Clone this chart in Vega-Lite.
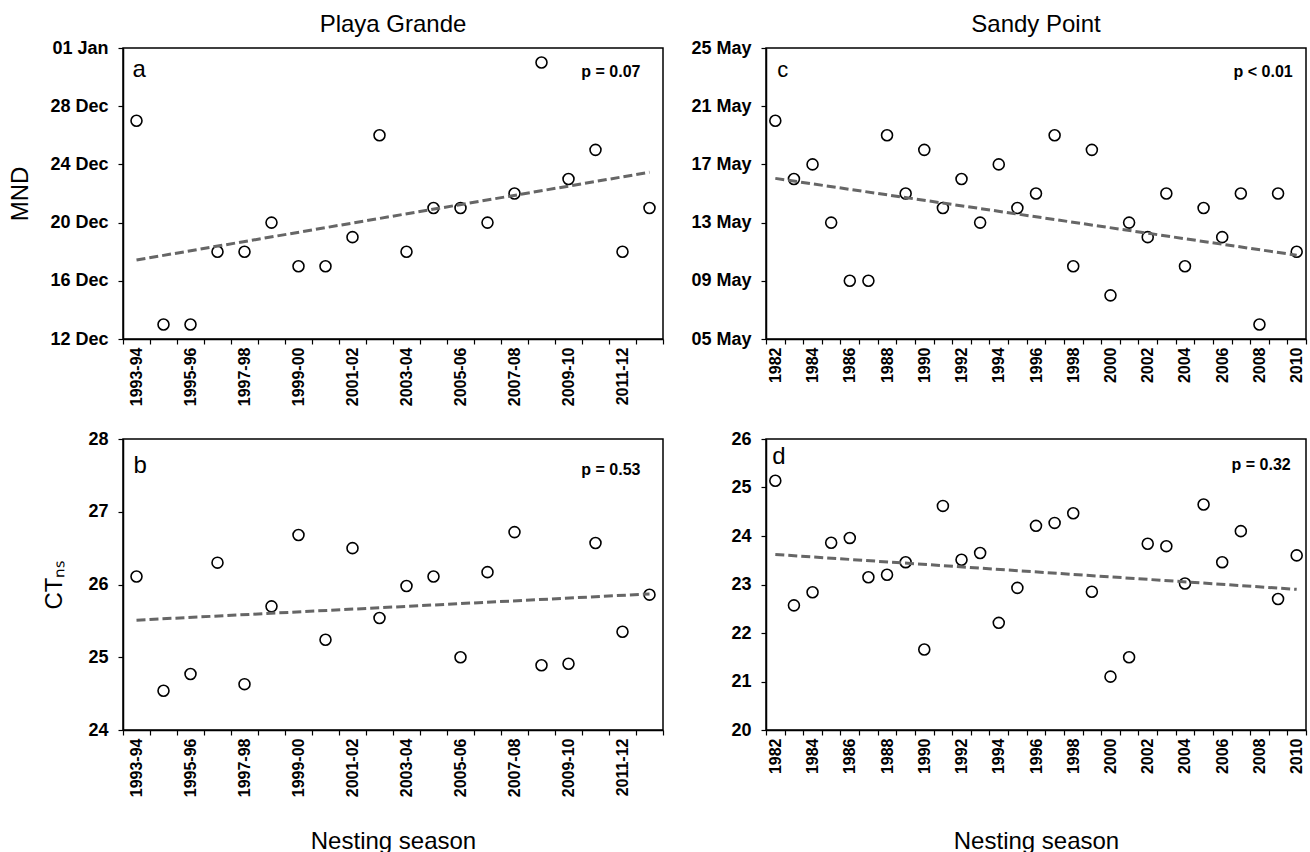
{
  "$schema": "https://vega.github.io/schema/vega-lite/v6.json",
  "background": "white",
  "padding": {"left": 8, "top": 12, "right": 5, "bottom": 0},
  "config": {
    "font": "Liberation Sans",
    "view": {"stroke": "black", "strokeWidth": 1.5},
    "axis": {"domainColor": "black", "domainWidth": 1.5, "tickColor": "black", "tickWidth": 1.2, "tickSize": 5, "labelColor": "black", "labelFont": "Liberation Sans", "labelFontWeight": "bold", "titleFont": "Liberation Sans", "titleFontWeight": "normal", "titleFontSize": 24, "titleColor": "black", "grid": false, "labelOverlap": false, "labelFlush": false},
    "axisY": {"titleAngle": -90, "titleAlign": "center", "titleBaseline": "bottom"},
    "title": {"font": "Liberation Sans", "fontSize": 24, "fontWeight": "normal", "color": "black"}
  },
  "datasets": {
    "playa": [
      {"season": "1993-94", "mnd_doy": 361, "ct": 26.11},
      {"season": "1994-95", "mnd_doy": 347, "ct": 24.54},
      {"season": "1995-96", "mnd_doy": 347, "ct": 24.77},
      {"season": "1996-97", "mnd_doy": 352, "ct": 26.30},
      {"season": "1997-98", "mnd_doy": 352, "ct": 24.63},
      {"season": "1998-99", "mnd_doy": 354, "ct": 25.70},
      {"season": "1999-00", "mnd_doy": 351, "ct": 26.68},
      {"season": "2000-01", "mnd_doy": 351, "ct": 25.24},
      {"season": "2001-02", "mnd_doy": 353, "ct": 26.50},
      {"season": "2002-03", "mnd_doy": 360, "ct": 25.54},
      {"season": "2003-04", "mnd_doy": 352, "ct": 25.98},
      {"season": "2004-05", "mnd_doy": 355, "ct": 26.11},
      {"season": "2005-06", "mnd_doy": 355, "ct": 25.00},
      {"season": "2006-07", "mnd_doy": 354, "ct": 26.17},
      {"season": "2007-08", "mnd_doy": 356, "ct": 26.72},
      {"season": "2008-09", "mnd_doy": 365, "ct": 24.89},
      {"season": "2009-10", "mnd_doy": 357, "ct": 24.91},
      {"season": "2010-11", "mnd_doy": 359, "ct": 26.57},
      {"season": "2011-12", "mnd_doy": 352, "ct": 25.35},
      {"season": "2012-13", "mnd_doy": 355, "ct": 25.86}
    ],
    "sandy": [
      {"year": 1982, "mnd_doy": 140, "ct": 25.14},
      {"year": 1983, "mnd_doy": 136, "ct": 22.57},
      {"year": 1984, "mnd_doy": 137, "ct": 22.84},
      {"year": 1985, "mnd_doy": 133, "ct": 23.86},
      {"year": 1986, "mnd_doy": 129, "ct": 23.96},
      {"year": 1987, "mnd_doy": 129, "ct": 23.15},
      {"year": 1988, "mnd_doy": 139, "ct": 23.20},
      {"year": 1989, "mnd_doy": 135, "ct": 23.46},
      {"year": 1990, "mnd_doy": 138, "ct": 21.66},
      {"year": 1991, "mnd_doy": 134, "ct": 24.62},
      {"year": 1992, "mnd_doy": 136, "ct": 23.51},
      {"year": 1993, "mnd_doy": 133, "ct": 23.65},
      {"year": 1994, "mnd_doy": 137, "ct": 22.21},
      {"year": 1995, "mnd_doy": 134, "ct": 22.93},
      {"year": 1996, "mnd_doy": 135, "ct": 24.21},
      {"year": 1997, "mnd_doy": 139, "ct": 24.27},
      {"year": 1998, "mnd_doy": 130, "ct": 24.47},
      {"year": 1999, "mnd_doy": 138, "ct": 22.85},
      {"year": 2000, "mnd_doy": 128, "ct": 21.10},
      {"year": 2001, "mnd_doy": 133, "ct": 21.50},
      {"year": 2002, "mnd_doy": 132, "ct": 23.84},
      {"year": 2003, "mnd_doy": 135, "ct": 23.79},
      {"year": 2004, "mnd_doy": 130, "ct": 23.02},
      {"year": 2005, "mnd_doy": 134, "ct": 24.65},
      {"year": 2006, "mnd_doy": 132, "ct": 23.46},
      {"year": 2007, "mnd_doy": 135, "ct": 24.10},
      {"year": 2008, "mnd_doy": 126, "ct": null},
      {"year": 2009, "mnd_doy": 135, "ct": 22.70},
      {"year": 2010, "mnd_doy": 131, "ct": 23.60}
    ]
  },
  "columns": 2,
  "bounds": "flush",
  "spacing": {"row": 100, "column": 103},
  "concat": [
    {
      "width": 540, "height": 291,
      "title": {"text": "Playa Grande", "offset": -17, "baseline": "alphabetic"},
      "data": {"name": "playa"},
      "layer": [
        {
          "mark": {"type": "point", "shape": "circle", "filled": false, "stroke": "black", "strokeWidth": 1.6, "size": 120, "opacity": 1},
          "encoding": {
            "x": {"field": "season", "type": "ordinal",
              "scale": {"type": "band", "paddingInner": 0, "paddingOuter": 0, "domain": ["1993-94","1994-95","1995-96","1996-97","1997-98","1998-99","1999-00","2000-01","2001-02","2002-03","2003-04","2004-05","2005-06","2006-07","2007-08","2008-09","2009-10","2010-11","2011-12","2012-13"]},
              "axis": {"title": null, "tickBand": "extent", "labelAngle": -90, "labelFontSize": 16, "labelPadding": 3, "labelExpr": "indexof(['1993-94','1995-96','1997-98','1999-00','2001-02','2003-04','2005-06','2007-08','2009-10','2011-12'], datum.value) >= 0 ? datum.value : ''"}},
            "y": {"field": "mnd_doy", "type": "quantitative",
              "scale": {"domain": [346, 366], "nice": false, "zero": false},
              "axis": {"title": "MND", "titlePadding": 17, "labelFontSize": 18, "labelPadding": 10,
                "values": [346,347,348,349,350,351,352,353,354,355,356,357,358,359,360,361,362,363,364,365,366],
                "labelExpr": "['12 Dec','','','','16 Dec','','','','20 Dec','','','','24 Dec','','','','28 Dec','','','','01 Jan'][datum.value - 346]"}}
          }
        },
        {
          "data": {"values": [{"season": "1993-94", "mnd_doy": 351.43}, {"season": "2012-13", "mnd_doy": 357.46}]},
          "mark": {"type": "line", "strokeDash": [9, 4], "strokeWidth": 3, "color": "#666666"},
          "encoding": {"x": {"field": "season", "type": "ordinal"}, "y": {"field": "mnd_doy", "type": "quantitative"}}
        },
        {
          "data": {"values": [{"season": "1993-94", "mnd_doy": 364, "label": "a"}]},
          "mark": {"type": "text", "align": "left", "baseline": "alphabetic", "dx": -4, "fontSize": 24, "color": "black"},
          "encoding": {"x": {"field": "season", "type": "ordinal"}, "y": {"field": "mnd_doy", "type": "quantitative"}, "text": {"field": "label"}}
        },
        {
          "data": {"values": [{"season": "2012-13", "mnd_doy": 364, "label": "p = 0.07"}]},
          "mark": {"type": "text", "align": "right", "baseline": "alphabetic", "dx": -9, "fontSize": 16, "fontWeight": "bold", "color": "black"},
          "encoding": {"x": {"field": "season", "type": "ordinal"}, "y": {"field": "mnd_doy", "type": "quantitative"}, "text": {"field": "label"}}
        }
      ]
    },
    {
      "width": 540, "height": 291,
      "title": {"text": "Sandy Point", "offset": -17, "baseline": "alphabetic"},
      "data": {"name": "sandy"},
      "layer": [
        {
          "mark": {"type": "point", "shape": "circle", "filled": false, "stroke": "black", "strokeWidth": 1.6, "size": 120, "opacity": 1},
          "encoding": {
            "x": {"field": "year", "type": "ordinal",
              "scale": {"type": "band", "paddingInner": 0, "paddingOuter": 0, "domain": [1982,1983,1984,1985,1986,1987,1988,1989,1990,1991,1992,1993,1994,1995,1996,1997,1998,1999,2000,2001,2002,2003,2004,2005,2006,2007,2008,2009,2010]},
              "axis": {"title": null, "tickBand": "extent", "labelAngle": -90, "labelFontSize": 16, "labelPadding": 3, "labelExpr": "datum.value % 2 == 0 ? datum.label : ''"}},
            "y": {"field": "mnd_doy", "type": "quantitative",
              "scale": {"domain": [125, 145], "nice": false, "zero": false},
              "axis": {"title": null, "labelFontSize": 18, "labelPadding": 10,
                "values": [125,126,127,128,129,130,131,132,133,134,135,136,137,138,139,140,141,142,143,144,145],
                "labelExpr": "['05 May','','','','09 May','','','','13 May','','','','17 May','','','','21 May','','','','25 May'][datum.value - 125]"}}
          }
        },
        {
          "data": {"values": [{"year": 1982, "mnd_doy": 136.04}, {"year": 2010, "mnd_doy": 130.76}]},
          "mark": {"type": "line", "strokeDash": [9, 4], "strokeWidth": 3, "color": "#666666"},
          "encoding": {"x": {"field": "year", "type": "ordinal"}, "y": {"field": "mnd_doy", "type": "quantitative"}}
        },
        {
          "data": {"values": [{"year": 1982, "mnd_doy": 143, "label": "c"}]},
          "mark": {"type": "text", "align": "left", "baseline": "alphabetic", "dx": 2, "fontSize": 22, "color": "black"},
          "encoding": {"x": {"field": "year", "type": "ordinal"}, "y": {"field": "mnd_doy", "type": "quantitative"}, "text": {"field": "label"}}
        },
        {
          "data": {"values": [{"year": 2010, "mnd_doy": 143, "label": "p < 0.01"}]},
          "mark": {"type": "text", "align": "right", "baseline": "alphabetic", "dx": -4, "fontSize": 16, "fontWeight": "bold", "color": "black"},
          "encoding": {"x": {"field": "year", "type": "ordinal"}, "y": {"field": "mnd_doy", "type": "quantitative"}, "text": {"field": "label"}}
        }
      ]
    },
    {
      "width": 540, "height": 291,
      "data": {"name": "playa"},
      "layer": [
        {
          "mark": {"type": "point", "shape": "circle", "filled": false, "stroke": "black", "strokeWidth": 1.6, "size": 120, "opacity": 1},
          "encoding": {
            "x": {"field": "season", "type": "ordinal",
              "scale": {"type": "band", "paddingInner": 0, "paddingOuter": 0, "domain": ["1993-94","1994-95","1995-96","1996-97","1997-98","1998-99","1999-00","2000-01","2001-02","2002-03","2003-04","2004-05","2005-06","2006-07","2007-08","2008-09","2009-10","2010-11","2011-12","2012-13"]},
              "axis": {"title": "Nesting season", "titlePadding": 33, "tickBand": "extent", "labelAngle": -90, "labelFontSize": 16, "labelPadding": 3, "labelExpr": "indexof(['1993-94','1995-96','1997-98','1999-00','2001-02','2003-04','2005-06','2007-08','2009-10','2011-12'], datum.value) >= 0 ? datum.value : ''"}},
            "y": {"field": "ct", "type": "quantitative",
              "scale": {"domain": [24, 28], "nice": false, "zero": false},
              "axis": {"title": "CTₙₛ", "titlePadding": 21, "labelFontSize": 18, "labelPadding": 10,
                "values": [24, 24.5, 25, 25.5, 26, 26.5, 27, 27.5, 28],
                "labelExpr": "datum.value % 1 == 0 ? '' + datum.value : ''"}}
          }
        },
        {
          "data": {"values": [{"season": "1993-94", "ct": 25.51}, {"season": "2012-13", "ct": 25.87}]},
          "mark": {"type": "line", "strokeDash": [9, 4], "strokeWidth": 3, "color": "#666666"},
          "encoding": {"x": {"field": "season", "type": "ordinal"}, "y": {"field": "ct", "type": "quantitative"}}
        },
        {
          "data": {"values": [{"season": "1993-94", "ct": 27.53, "label": "b"}]},
          "mark": {"type": "text", "align": "left", "baseline": "alphabetic", "dx": -3, "fontSize": 24, "color": "black"},
          "encoding": {"x": {"field": "season", "type": "ordinal"}, "y": {"field": "ct", "type": "quantitative"}, "text": {"field": "label"}}
        },
        {
          "data": {"values": [{"season": "2012-13", "ct": 27.5, "label": "p = 0.53"}]},
          "mark": {"type": "text", "align": "right", "baseline": "alphabetic", "dx": -9, "fontSize": 16, "fontWeight": "bold", "color": "black"},
          "encoding": {"x": {"field": "season", "type": "ordinal"}, "y": {"field": "ct", "type": "quantitative"}, "text": {"field": "label"}}
        }
      ]
    },
    {
      "width": 540, "height": 291,
      "data": {"name": "sandy"},
      "layer": [
        {
          "mark": {"type": "point", "shape": "circle", "filled": false, "stroke": "black", "strokeWidth": 1.6, "size": 120, "opacity": 1},
          "encoding": {
            "x": {"field": "year", "type": "ordinal",
              "scale": {"type": "band", "paddingInner": 0, "paddingOuter": 0, "domain": [1982,1983,1984,1985,1986,1987,1988,1989,1990,1991,1992,1993,1994,1995,1996,1997,1998,1999,2000,2001,2002,2003,2004,2005,2006,2007,2008,2009,2010]},
              "axis": {"title": "Nesting season", "titlePadding": 56, "tickBand": "extent", "labelAngle": -90, "labelFontSize": 16, "labelPadding": 3, "labelExpr": "datum.value % 2 == 0 ? datum.label : ''"}},
            "y": {"field": "ct", "type": "quantitative",
              "scale": {"domain": [20, 26], "nice": false, "zero": false},
              "axis": {"title": null, "labelFontSize": 18, "labelPadding": 10,
                "values": [20, 20.5, 21, 21.5, 22, 22.5, 23, 23.5, 24, 24.5, 25, 25.5, 26],
                "labelExpr": "datum.value % 1 == 0 ? '' + datum.value : ''"}}
          }
        },
        {
          "data": {"values": [{"year": 1982, "ct": 23.62}, {"year": 2010, "ct": 22.90}]},
          "mark": {"type": "line", "strokeDash": [9, 4], "strokeWidth": 3, "color": "#666666"},
          "encoding": {"x": {"field": "year", "type": "ordinal"}, "y": {"field": "ct", "type": "quantitative"}}
        },
        {
          "data": {"values": [{"year": 1982, "ct": 25.48, "label": "d"}]},
          "mark": {"type": "text", "align": "left", "baseline": "alphabetic", "dx": -3, "fontSize": 24, "color": "black"},
          "encoding": {"x": {"field": "year", "type": "ordinal"}, "y": {"field": "ct", "type": "quantitative"}, "text": {"field": "label"}}
        },
        {
          "data": {"values": [{"year": 2010, "ct": 25.36, "label": "p = 0.32"}]},
          "mark": {"type": "text", "align": "right", "baseline": "alphabetic", "dx": -6, "fontSize": 16, "fontWeight": "bold", "color": "black"},
          "encoding": {"x": {"field": "year", "type": "ordinal"}, "y": {"field": "ct", "type": "quantitative"}, "text": {"field": "label"}}
        }
      ]
    }
  ]
}
